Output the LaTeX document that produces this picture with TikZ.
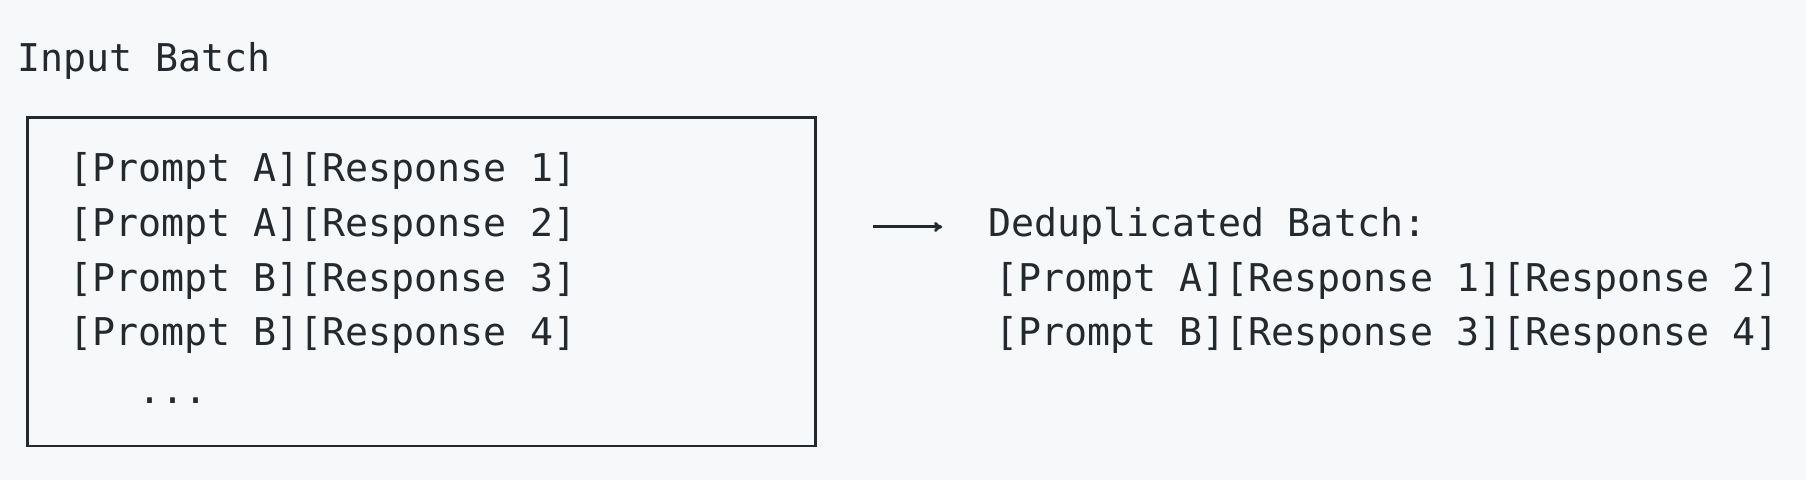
\documentclass[tikz,border=0pt]{standalone}
\usepackage{fontspec}
\setmonofont{DejaVu Sans Mono}
\usetikzlibrary{arrows.meta,positioning}
\definecolor{pagebg}{HTML}{F6F8FA}
\definecolor{ink}{HTML}{24292E}

\begin{document}
\begin{tikzpicture}[
  x=0.02cm,y=-0.02cm,
  every node/.style={font=\ttfamily\fontsize{18.9}{22}\selectfont,text=ink,inner sep=0pt,anchor=base west},
  frame/.style={draw=ink,line width=1.2pt},
  arr/.style={-{To[length=4pt,width=5pt]},line width=1.4pt,draw=ink}
]

% background and bounding box
\fill[pagebg] (0,0) rectangle (1568,416.7);
\useasboundingbox (0,0) rectangle (1568,416.7);

% ============================================================
% LEFT: input batch
% ============================================================

\node (title) at (15,62) {Input Batch};
\draw[frame] (24,102) rectangle (708,387);

\node (r1) at (60,158) {[Prompt A][Response 1]};
\node (r2) at (60,205) {[Prompt A][Response 2]};
\node (r3) at (60,253) {[Prompt B][Response 3]};
\node (r4) at (60,300) {[Prompt B][Response 4]};
\node (dots) at (60,350) {\ \ \ ...};

% ============================================================
% RIGHT: deduplicated batch
% ============================================================

\node (dedup) at (858,205) {Deduplicated Batch:};
\node (d1) at (864,253) {[Prompt A][Response 1][Response 2]};
\node (d2) at (864,300) {[Prompt B][Response 3][Response 4]};

\coordinate (arrstart) at (758,197);
\draw[arr,shorten >=0.8cm] (arrstart) -- (arrstart -| dedup.west);

\end{tikzpicture}
\end{document}
